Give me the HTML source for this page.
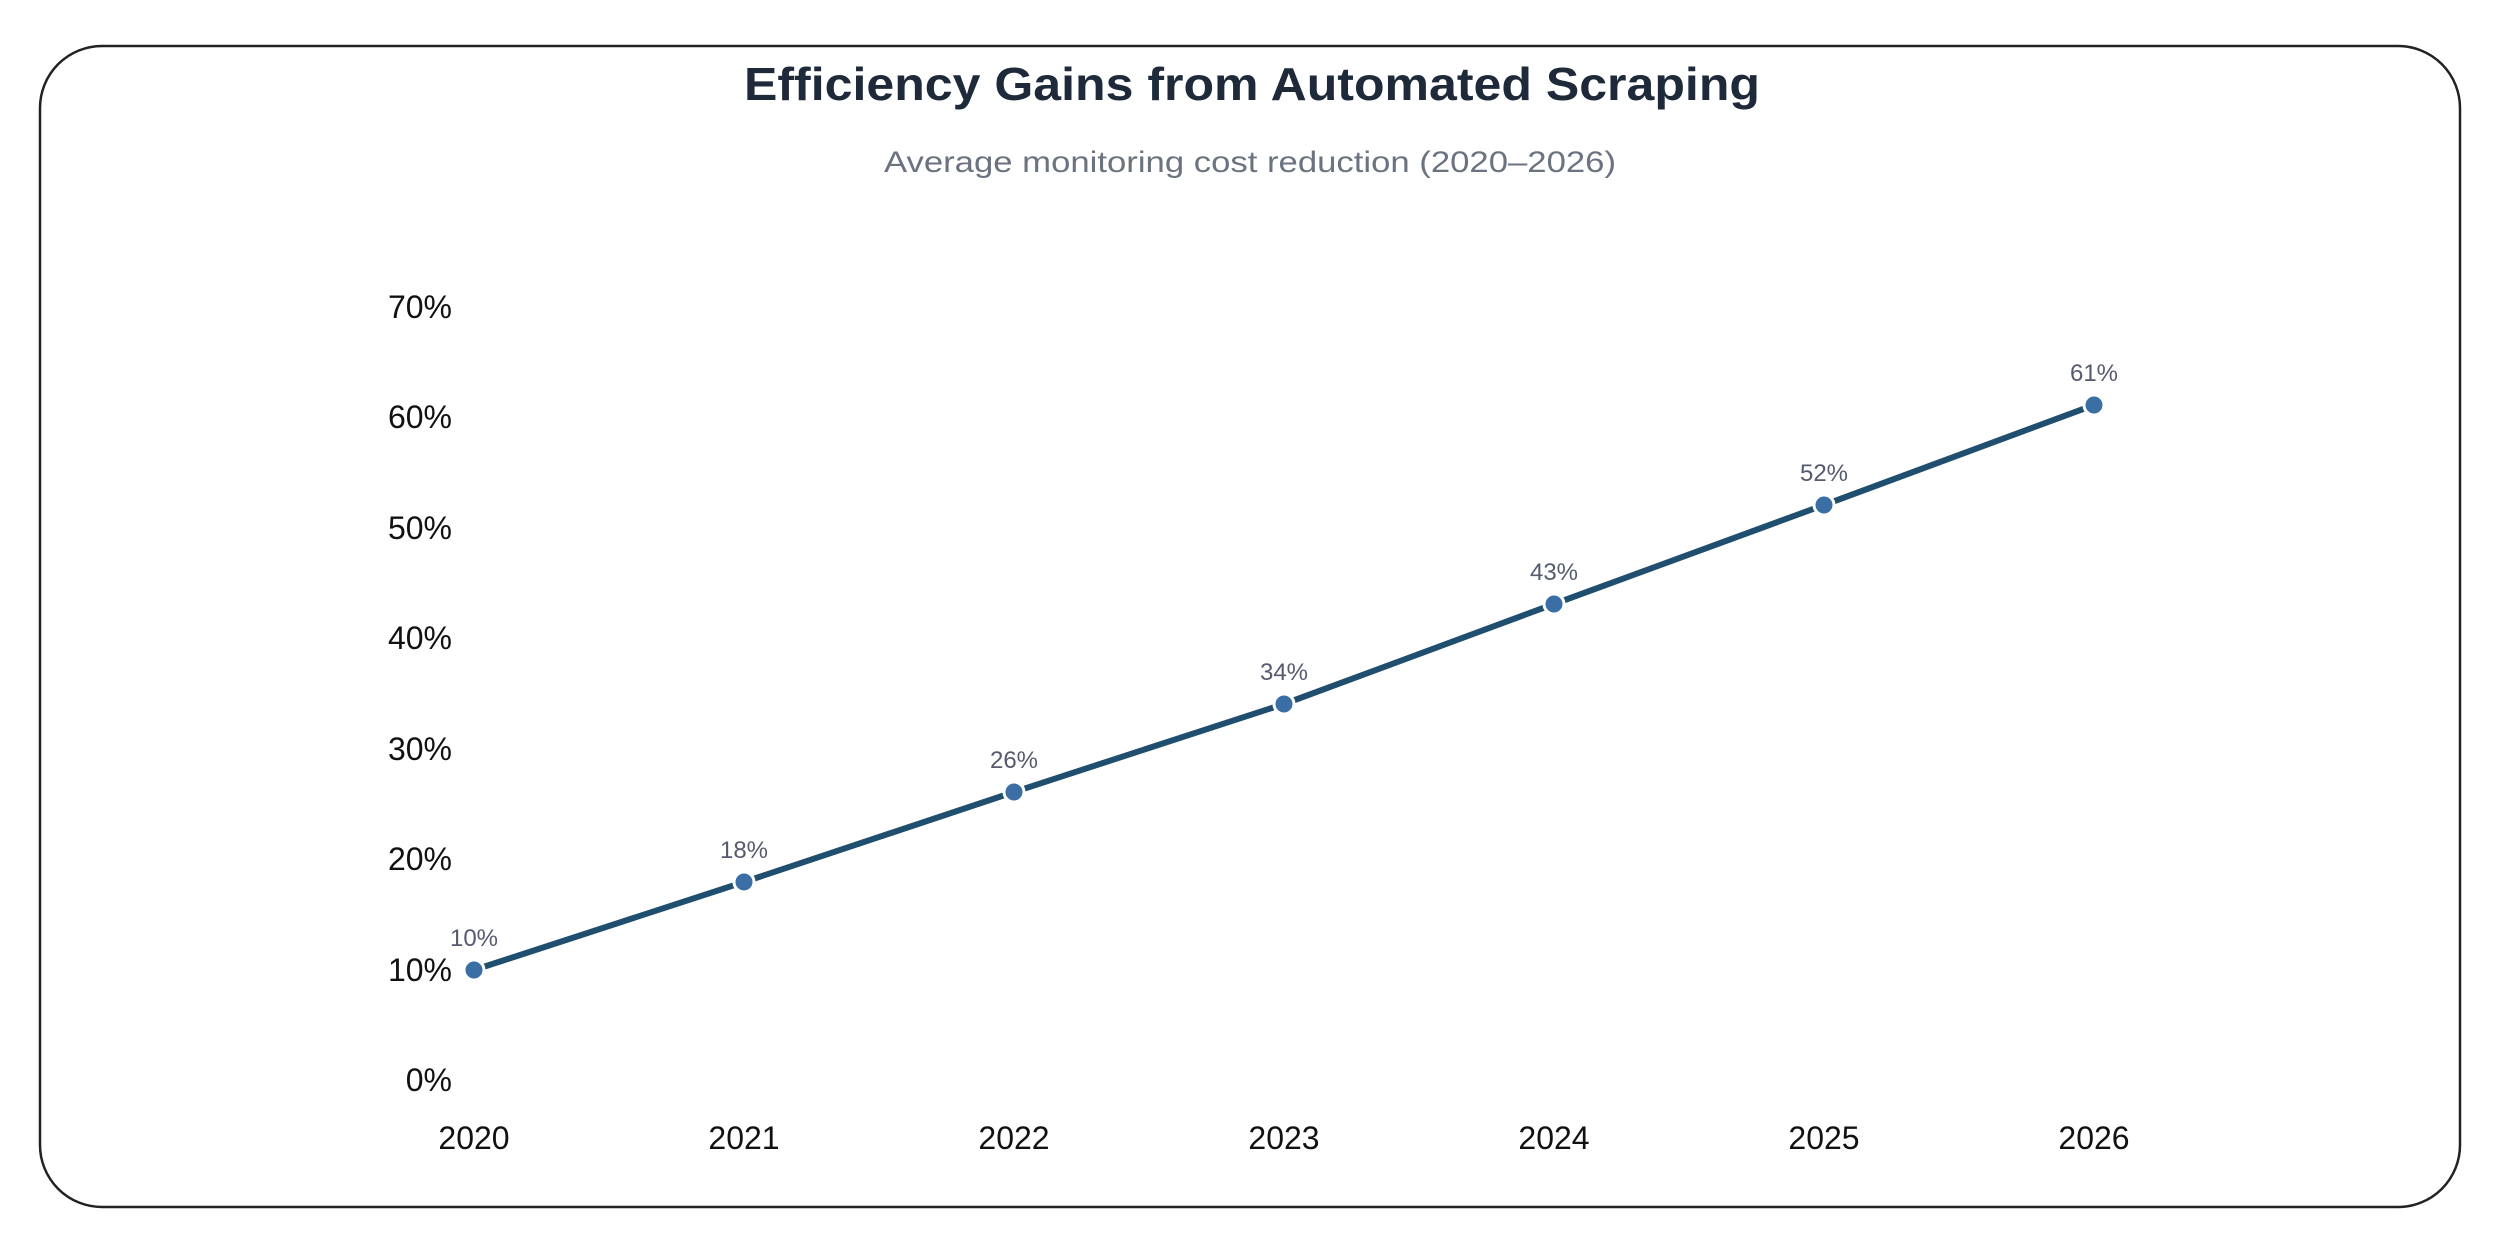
<!DOCTYPE html>
<html><head><meta charset="utf-8"><style>
html,body{margin:0;padding:0;background:#fff;}
svg{display:block;}
</style></head><body>
<svg width="2497" height="1240" viewBox="0 0 2497 1240" xmlns="http://www.w3.org/2000/svg" font-family="'Liberation Sans', sans-serif">
<rect x="0" y="0" width="2497" height="1240" fill="#fff"/>
<rect x="40" y="46" width="2420" height="1161" rx="62" ry="62" fill="#fff" stroke="#222" stroke-width="2.5"/>
<text x="1252" y="100" text-anchor="middle" font-size="46" font-weight="bold" fill="#1e2a3a" textLength="1016" lengthAdjust="spacingAndGlyphs">Efficiency Gains from Automated Scraping</text>
<text x="1250" y="172" text-anchor="middle" font-size="30" fill="#6b7280" textLength="732" lengthAdjust="spacingAndGlyphs">Average monitoring cost reduction (2020–2026)</text>
<g font-size="32" fill="#111" text-anchor="end">
<text x="452" y="1091">0%</text>
<text x="452" y="981">10%</text>
<text x="452" y="870">20%</text>
<text x="452" y="760">30%</text>
<text x="452" y="649">40%</text>
<text x="452" y="539">50%</text>
<text x="452" y="428">60%</text>
<text x="452" y="318">70%</text>
</g>
<g font-size="32" fill="#111" text-anchor="middle">
<text x="474" y="1149">2020</text>
<text x="744" y="1149">2021</text>
<text x="1014" y="1149">2022</text>
<text x="1284" y="1149">2023</text>
<text x="1554" y="1149">2024</text>
<text x="1824" y="1149">2025</text>
<text x="2094" y="1149">2026</text>
</g>
<polyline points="474,970 744,882 1014,792 1284,704 1554,604 1824,505 2094,405" fill="none" stroke="#1f4e6e" stroke-width="6" stroke-linejoin="round"/>
<g fill="#3a6ea5" stroke="#fff" stroke-width="3">
<circle cx="474" cy="970" r="10"/>
<circle cx="744" cy="882" r="10"/>
<circle cx="1014" cy="792" r="10"/>
<circle cx="1284" cy="704" r="10"/>
<circle cx="1554" cy="604" r="10"/>
<circle cx="1824" cy="505" r="10"/>
<circle cx="2094" cy="405" r="10"/>
</g>
<g font-size="24" fill="#555a6e" text-anchor="middle">
<text x="474" y="946">10%</text>
<text x="744" y="858">18%</text>
<text x="1014" y="768">26%</text>
<text x="1284" y="680">34%</text>
<text x="1554" y="580">43%</text>
<text x="1824" y="481">52%</text>
<text x="2094" y="381">61%</text>
</g>
</svg>
</body></html>
